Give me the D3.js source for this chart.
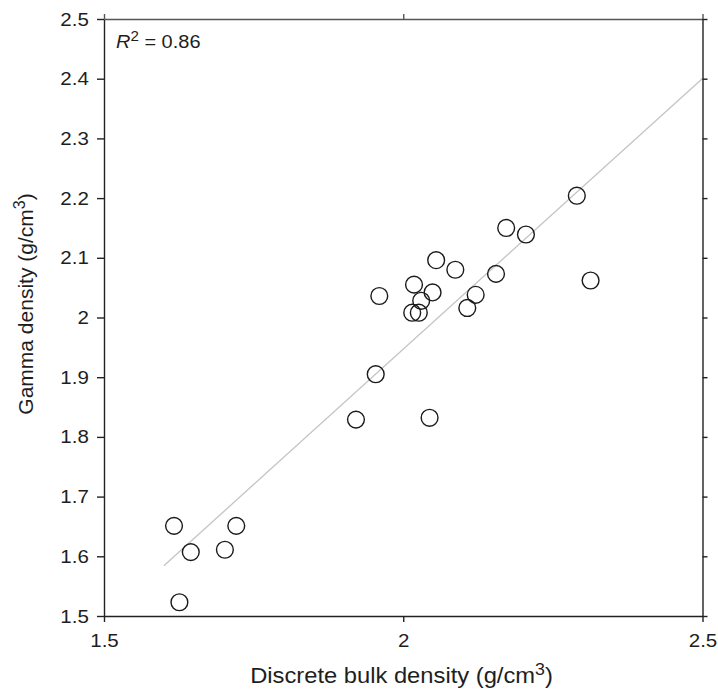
<!DOCTYPE html>
<html>
<head>
<meta charset="utf-8">
<script src="https://cdn.jsdelivr.net/npm/d3@7"></script>
<style>
  html, body { margin: 0; padding: 0; background: #fff; }
  svg { display: block; font-family: "Liberation Sans", Arial, Helvetica, sans-serif; }
</style>
</head>
<body>
<svg id="chart" width="718" height="694"></svg>
<script>
// Discrete bulk density (x) vs gamma density (y), g/cm3
const bulkDensity = [1.617, 1.721, 1.645, 1.702, 1.626, 1.921, 1.954, 2.044, 1.960, 2.018, 2.049, 2.030,
  2.015, 2.026, 2.055, 2.087, 2.155, 2.121, 2.107, 2.172, 2.205, 2.290, 2.313];
const gammaDensity = [1.651, 1.651, 1.607, 1.611, 1.523, 1.829, 1.905, 1.832, 2.036, 2.055, 2.042, 2.028,
  2.008, 2.008, 2.096, 2.080, 2.073, 2.038, 2.016, 2.150, 2.139, 2.204, 2.062];

// Least-squares line, drawn across the range below
const fitSlope = 0.907;
const fitIntercept = 0.133;
const fitRange = [1.6, 2.5];
const rSquared = "0.86";

const xTicks = [1.5, 2, 2.5];
const yTicks = [1.5, 1.6, 1.7, 1.8, 1.9, 2, 2.1, 2.2, 2.3, 2.4, 2.5];

const svg = d3.select("#chart");
const plotLeft = 104, plotRight = 702.5, plotTop = 19, plotBottom = 616;
const widen = 1.08; // slightly wide lettering

const x = d3.scaleLinear().domain([1.5, 2.5]).range([plotLeft, plotRight]);
const y = d3.scaleLinear().domain([1.5, 2.5]).range([plotBottom, plotTop]);
const fmt = v => String(+v.toFixed(1));

// regression line
svg.append("line")
  .attr("x1", x(fitRange[0])).attr("y1", y(fitIntercept + fitSlope * fitRange[0]))
  .attr("x2", x(fitRange[1])).attr("y2", y(fitIntercept + fitSlope * fitRange[1]))
  .attr("stroke", "#c4c4c4").attr("stroke-width", 1.3);

// axes on all four sides
function styleAxis(g, color, width) {
  g.selectAll("path").attr("stroke", color).attr("stroke-width", width);
  g.selectAll("line").attr("stroke", color).attr("stroke-width", width);
  g.selectAll("text").attr("fill", "#1e1e1e").attr("font-size", 19)
    .attr("font-family", "'Liberation Sans', Arial, Helvetica, sans-serif")
    .attr("transform", `scale(${widen},1)`);
}

svg.append("g").attr("transform", `translate(0,${plotTop})`)
  .call(d3.axisTop(x).tickValues(xTicks).tickSize(5).tickSizeOuter(0).tickFormat(""))
  .call(g => styleAxis(g, "#555", 1.4));
svg.append("g").attr("transform", `translate(${plotRight},0)`)
  .call(d3.axisRight(y).tickValues(yTicks).tickSize(5).tickSizeOuter(0).tickFormat(""))
  .call(g => styleAxis(g, "#222", 1.4));
svg.append("g").attr("transform", `translate(0,${plotBottom})`)
  .call(d3.axisBottom(x).tickValues(xTicks).tickSize(6).tickSizeOuter(0).tickPadding(12).tickFormat(fmt))
  .call(g => styleAxis(g, "#222", 1.4));
svg.append("g").attr("transform", `translate(${plotLeft},0)`)
  .call(d3.axisLeft(y).tickValues(yTicks).tickSize(7).tickSizeOuter(0).tickPadding(7).tickFormat(fmt))
  .call(g => styleAxis(g, "#222", 1.4));

// data points
svg.append("g").selectAll("circle")
  .data(d3.range(bulkDensity.length))
  .join("circle")
  .attr("cx", i => x(bulkDensity[i]))
  .attr("cy", i => y(gammaDensity[i]))
  .attr("r", 8.4)
  .attr("fill", "none")
  .attr("stroke", "#1a1a1a")
  .attr("stroke-width", 1.4);

// R² annotation
const r2 = svg.append("text")
  .attr("transform", `translate(116,48) scale(${widen},1)`)
  .attr("font-size", 18.5).attr("fill", "#1e1e1e");
r2.append("tspan").attr("font-style", "italic").text("R");
r2.append("tspan").attr("font-size", 14).attr("dy", -7).text("2");
r2.append("tspan").attr("dy", 7).text(" = " + rSquared);

// axis titles
const xt = svg.append("text")
  .attr("transform", `translate(401.5,683) scale(${widen},1)`)
  .attr("text-anchor", "middle").attr("font-size", 22).attr("fill", "#1e1e1e");
xt.append("tspan").text("Discrete bulk density (g/cm");
xt.append("tspan").attr("font-size", 16.5).attr("dy", -8).text("3");
xt.append("tspan").attr("dy", 8).text(")");

const yt = svg.append("text")
  .attr("transform", `translate(33,304) rotate(-90)`)
  .attr("text-anchor", "middle").attr("font-size", 21).attr("fill", "#1e1e1e");
yt.append("tspan").text("Gamma density (g/cm");
yt.append("tspan").attr("font-size", 16).attr("dy", -8).text("3");
yt.append("tspan").attr("dy", 8).text(")");
</script>
</body>
</html>
